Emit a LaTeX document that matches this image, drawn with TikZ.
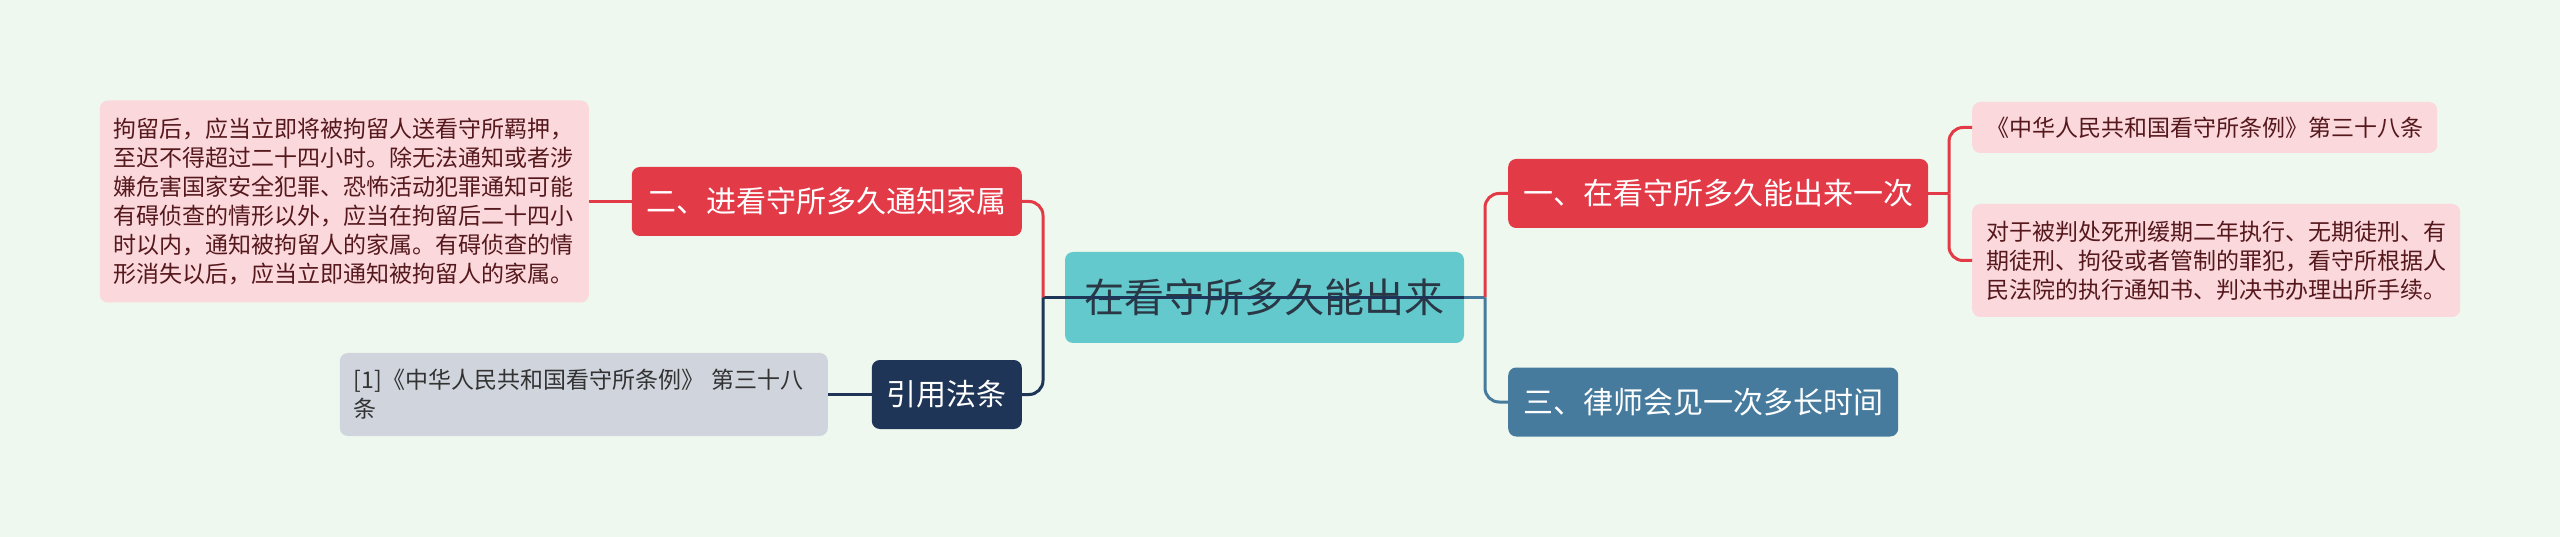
\documentclass[tikz,border=0pt]{standalone}
\usepackage{fontspec}
\setmainfont{Noto Sans CJK SC}
\usepackage{tikz}
\definecolor{bgmint}{HTML}{EFF8EE}
\definecolor{topicteal}{HTML}{63C9CC}
\definecolor{topictext}{HTML}{2A3745}
\definecolor{branchred}{HTML}{E33A48}
\definecolor{branchnavy}{HTML}{1E3557}
\definecolor{branchsteel}{HTML}{467B9E}
\definecolor{leafpink}{HTML}{FAD8DC}
\definecolor{leafpinktext}{HTML}{55181C}
\definecolor{leafgray}{HTML}{D0D5DD}
\definecolor{leafgraytext}{HTML}{333333}

\begin{document}
\begin{tikzpicture}[x=1pt, y=-1pt,
    topic/.style={rounded corners=8pt, fill=topicteal, text=topictext, font=\fontsize{40}{48}\selectfont, minimum width=399pt, minimum height=91pt, inner sep=0pt},
    branch/.style={rounded corners=8pt, text=white, font=\fontsize{30}{36}\selectfont, inner xsep=15pt, inner ysep=0pt, minimum height=69pt},
    leaf/.style={rounded corners=8pt, font=\fontsize{23}{29}\selectfont, align=left, inner xsep=14pt, inner ysep=0pt},
    pinkleaf/.style={leaf, fill=leafpink, text=leafpinktext},
    grayleaf/.style={leaf, fill=leafgray, text=leafgraytext},
    link/.style={line width=3pt, rounded corners=14pt}]

    % background
    \fill[bgmint] (0,0) rectangle (2560,537);
    \useasboundingbox (0,0) rectangle (2560,537);

    % centre topic
    \node[topic] (topic) at (1264.5,297.5) {在看守所多久能出来};
    \coordinate (lj) at (1043,297.5); % left junction
    \coordinate (rj) at (1485,297.5); % right junction

    % right side
    \node[branch, fill=branchred, anchor=west] (once) at (1508,193.5) {一、在看守所多久能出来一次};
    \node[branch, fill=branchsteel, anchor=west] (lawyer) at (1508,402) {三、律师会见一次多长时间};
    \coordinate (oj) at (1949,193.5); % junction after branch one
    \node[pinkleaf, text width=437pt, minimum height=51pt, anchor=west] (rule) at (1972,127.5) {《中华人民共和国看守所条例》第三十八条};
    \node[pinkleaf, text width=460pt, minimum height=113pt, anchor=west] (release) at (1972,260.5)
        {对于被判处死刑缓期二年执行、无期徒刑、有\\期徒刑、拘役或者管制的罪犯，看守所根据人\\民法院的执行通知书、判决书办理出所手续。};

    % left side
    \node[branch, fill=branchred, anchor=east] (notify) at (1022,201.5) {二、进看守所多久通知家属};
    \node[branch, fill=branchnavy, anchor=east] (cite) at (1022,394.5) {引用法条};
    \node[pinkleaf, text width=461pt, minimum height=202pt, anchor=east] (family) at (589,201.5)
        {拘留后，应当立即将被拘留人送看守所羁押，\\至迟不得超过二十四小时。除无法通知或者涉\\嫌危害国家安全犯罪、恐怖活动犯罪通知可能\\有碍侦查的情形以外，应当在拘留后二十四小\\时以内，通知被拘留人的家属。有碍侦查的情\\形消失以后，应当立即通知被拘留人的家属。};
    \node[grayleaf, text width=460pt, minimum height=83pt, anchor=east] (law) at (828,394.5)
        {[1]《中华人民共和国看守所条例》 第三十八\\条};

    % connectors
    \draw[link, branchsteel] (topic.east) -- (rj);
    \draw[link, branchnavy] (lj) -- (topic.east);
    \draw[link, branchred] (rj) |- (once.west);
    \draw[link, branchsteel] (rj) |- (lawyer.west);
    \draw[link, branchred] (once.east) -- (oj);
    \draw[link, branchred] (oj) |- (rule.west);
    \draw[link, branchred] (oj) |- (release.west);
    \draw[link, branchred] (notify.east) -| (lj);
    \draw[link, branchnavy] (cite.east) -| (lj);
    \draw[link, branchred] (notify.west) -- (family.east);
    \draw[link, branchnavy] (cite.west) -- (law.east);
\end{tikzpicture}
\end{document}
